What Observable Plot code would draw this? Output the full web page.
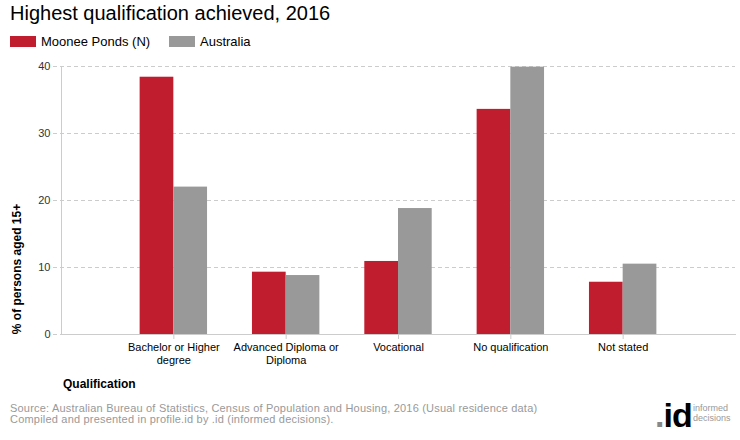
<!DOCTYPE html>
<html>
<head>
<meta charset="utf-8">
<script src="https://cdn.jsdelivr.net/npm/d3@7"></script>
<script src="https://cdn.jsdelivr.net/npm/@observablehq/plot@0.6"></script>
<style>
  html, body { margin: 0; padding: 0; background: #fff; }
  body { width: 740px; height: 440px; position: relative; overflow: hidden; font-family: "Liberation Sans", Arial, sans-serif; }
  .abs { position: absolute; white-space: nowrap; }
  #title { left: 10px; top: 3px; font-size: 20px; line-height: 20px; color: #000; }
  .legend { top: 35px; font-size: 13px; line-height: 13px; color: #000; display: flex; align-items: center; }
  .sw { display: inline-block; width: 26px; height: 11px; margin-right: 5px; }
  #chart { left: 0; top: 50px; }
  #ylabel { left: 17px; top: 269px; font-size: 12px; font-weight: bold; transform: translate(-50%, -50%) rotate(-90deg); }
  #xlabel { left: 63px; top: 378px; font-size: 12px; font-weight: bold; line-height: 12px; }
  .foot { left: 10px; font-size: 11px; line-height: 11px; color: #999; letter-spacing: 0.2px; }
  #logo { left: 655px; top: 398px; }
</style>
</head>
<body>
<div id="title" class="abs">Highest qualification achieved, 2016</div>
<div class="abs legend" style="left:10px"><span class="sw" style="background:#C01D2E"></span><span id="leg1"></span></div>
<div class="abs legend" style="left:169px"><span class="sw" style="background:#999999"></span><span id="leg2"></span></div>
<div id="chart" class="abs"></div>
<div id="ylabel" class="abs">% of persons aged 15+</div>
<div id="xlabel" class="abs">Qualification</div>
<div class="abs foot" style="top:403px">Source: Australian Bureau of Statistics, Census of Population and Housing, 2016 (Usual residence data)</div>
<div class="abs foot" style="top:414px">Compiled and presented in profile.id by .id (informed decisions).</div>
<div id="logo" class="abs">
  <span style="position:absolute; left:0; top:0; font-size:34px; line-height:34px; font-weight:bold; letter-spacing:-1px; color:#000"><span style="color:#888">.</span>id</span>
  <span style="position:absolute; left:38px; top:5px; font-size:9px; line-height:10px; color:#999">informed<br>decisions</span>
</div>
<script>
const categories = ["Bachelor or Higher degree", "Advanced Diploma or Diploma", "Vocational", "No qualification", "Not stated"];
const tickLabels = ["Bachelor or Higher\ndegree", "Advanced Diploma or\nDiploma", "Vocational", "No qualification", "Not stated"];
const seriesNames = ["Moonee Ponds (N)", "Australia"];
const mooneePonds = [38.4, 9.3, 10.9, 33.6, 7.8];
const australia = [22.0, 8.8, 18.8, 39.9, 10.5];
const yTicks = [0, 10, 20, 30, 40];
const colors = ["#C01D2E", "#999999"];

document.getElementById("leg1").textContent = seriesNames[0];
document.getElementById("leg2").textContent = seriesNames[1];

const rows = categories.map((c, i) => ({category: c, moonee: mooneePonds[i], australia: australia[i]}));

const W = 740, mL = 61, mR = 5;
const pIn = 0.4, pOut = 0.7;
const step = (W - mL - mR) / (categories.length - pIn + 2 * pOut);
const half = step * (1 - pIn) / 2;

const chart = Plot.plot({
  width: W,
  height: 340,
  marginLeft: mL,
  marginRight: mR,
  marginTop: 16,
  marginBottom: 56,
  style: {fontFamily: "'Liberation Sans', Arial, sans-serif", fontSize: "11px", background: "transparent", color: "#000"},
  x: {type: "band", domain: categories, paddingInner: pIn, paddingOuter: pOut, align: 0.5, round: false, label: null},
  y: {domain: [0, 40], label: null},
  marks: [
    Plot.gridY(yTicks, {stroke: "#cccccc", strokeOpacity: 1, strokeDasharray: "4,3", insetLeft: -8}),
    Plot.barY(rows, {x: "category", y: "moonee", fill: colors[0], insetRight: half}),
    Plot.barY(rows, {x: "category", y: "australia", fill: colors[1], insetLeft: half}),
    Plot.frame({anchor: "left", stroke: "#cccccc"}),
    Plot.frame({anchor: "bottom", stroke: "#cccccc"}),
    Plot.axisY({ticks: yTicks, tickSize: 0, tickPadding: 11, fill: "#333", label: null}),
    Plot.axisX({tickSize: 5, tickPadding: 3, stroke: "#cccccc", fill: "#000", lineHeight: 1.15,
      tickFormat: d => tickLabels[categories.indexOf(d)], label: null})
  ]
});
document.getElementById("chart").appendChild(chart);
</script>
</body>
</html>
